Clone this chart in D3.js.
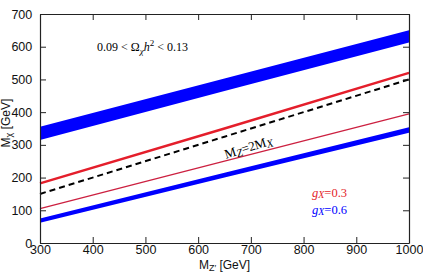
<!DOCTYPE html>
<html>
<head>
<meta charset="utf-8">
<script src="https://cdn.jsdelivr.net/npm/d3@7"></script>
<style>
  body { margin: 0; background: #fff; }
  svg { display: block; }
</style>
</head>
<body>
<svg width="423" height="273"></svg>
<script>
// M_Z' sample points (GeV)
const mzp = [300, 650, 1000];
// relic band, g_X = 0.6 (upper blue band)
const bandHighLo = [315, 465, 613];
const bandHighHi = [355, 503, 650];
// g_X = 0.6 lower blue band
const bandLowLo = [62, 200, 337];
const bandLowHi = [75, 215, 354];
// g_X = 0.3 red lines
const redThick = [182, 350, 520];
const redThin = [105, 250, 395];
// M_Z' = 2 M_X
const resonance = [150, 325, 500];

const xTicks = [300, 400, 500, 600, 700, 800, 900, 1000];
const yTicks = [0, 100, 200, 300, 400, 500, 600, 700];

const margin = { top: 14, right: 14, bottom: 30, left: 40 };
const width = 423 - margin.left - margin.right;
const height = 273 - margin.top - margin.bottom;

const x = d3.scaleLinear().domain([300, 1000]).range([0, width]);
const y = d3.scaleLinear().domain([0, 700]).range([height, 0]);

const svg = d3.select('svg');
const g = svg.append('g')
  .attr('transform', `translate(${margin.left},${margin.top})`);

const sans = 'Liberation Sans, Arial, sans-serif';
const serif = 'Liberation Serif, Times New Roman, serif';

// bands
const area = (lo, hi) => d3.area()
  .x((d, i) => x(mzp[i]))
  .y0((d, i) => y(lo[i]))
  .y1((d, i) => y(hi[i]))(mzp);

g.append('path').attr('d', area(bandHighLo, bandHighHi)).attr('fill', '#0000ff');
g.append('path').attr('d', area(bandLowLo, bandLowHi)).attr('fill', '#0000ff');

const line = vals => d3.line()
  .x((d, i) => x(mzp[i]))
  .y((d, i) => y(vals[i]))(mzp);

g.append('path').attr('d', line(redThick))
  .attr('fill', 'none').attr('stroke', '#e41e2b').attr('stroke-width', 2.4);
g.append('path').attr('d', line(redThin))
  .attr('fill', 'none').attr('stroke', '#cc2040').attr('stroke-width', 1.3);
g.append('path').attr('d', line(resonance))
  .attr('fill', 'none').attr('stroke', '#000').attr('stroke-width', 2)
  .attr('stroke-dasharray', '6,4');

// axes
const tick = 6;
const xAxis = g.append('g')
  .attr('transform', `translate(0,${height})`)
  .call(d3.axisBottom(x).tickValues(xTicks).tickFormat(d3.format('d'))
    .tickSize(-tick).tickPadding(2).tickSizeOuter(0));
const xTop = g.append('g')
  .call(d3.axisTop(x).tickValues(xTicks).tickSize(-tick).tickFormat('').tickSizeOuter(0));
const yAxis = g.append('g')
  .call(d3.axisLeft(y).tickValues(yTicks).tickSize(-tick).tickPadding(tick + 3).tickSizeOuter(0));
const yRight = g.append('g')
  .attr('transform', `translate(${width},0)`)
  .call(d3.axisRight(y).tickValues(yTicks).tickSize(-tick).tickFormat('').tickSizeOuter(0));

[xAxis, xTop, yAxis, yRight].forEach(a => {
  a.select('.domain').attr('stroke', '#222').attr('stroke-width', 1.2);
  a.selectAll('.tick line').attr('stroke', '#222').attr('stroke-width', 1);
  a.selectAll('text').attr('font-family', sans).attr('font-size', 12.5).attr('fill', '#111');
});
yAxis.selectAll('text').attr('dx', '0.1em');

// axis titles
const xt = svg.append('text')
  .attr('x', margin.left + width / 2).attr('y', 269)
  .attr('text-anchor', 'middle')
  .attr('font-family', sans).attr('font-size', 12).attr('fill', '#111');
xt.append('tspan').text('M');
xt.append('tspan').attr('font-size', 9).attr('dy', 2).text('Z′');
xt.append('tspan').attr('dy', -2).text(' [GeV]');

const yt = svg.append('text')
  .attr('transform', 'translate(10,123) rotate(-90)')
  .attr('text-anchor', 'middle')
  .attr('font-family', sans).attr('font-size', 12).attr('fill', '#111');
yt.append('tspan').text('M');
yt.append('tspan').attr('font-size', 9).attr('dy', 2).text('χ');
yt.append('tspan').attr('dy', -2).text(' [GeV]');

// relic density annotation
const rel = g.append('text')
  .attr('x', 57).attr('y', 37)
  .attr('font-family', serif).attr('font-size', 12).attr('fill', '#000');
rel.append('tspan').text('0.09 < Ω');
rel.append('tspan').attr('font-size', 9).attr('dy', 3).attr('font-style', 'italic').text('χ');
rel.append('tspan').attr('dy', -3).attr('font-style', 'italic').text('h');
rel.append('tspan').attr('font-size', 9).attr('dy', -5).text('2');
rel.append('tspan').attr('dy', 5).text(' < 0.13');

// M_Z = 2 M_X label, rotated along the dashed line
const lx = 698, ly = 280;
const ang = Math.atan2(y(resonance[2]) - y(resonance[0]), x(mzp[2]) - x(mzp[0])) * 180 / Math.PI;
const lab = g.append('text')
  .attr('transform', `translate(${x(lx)},${y(ly)}) rotate(${ang})`)
  .attr('text-anchor', 'middle')
  .attr('font-family', serif).attr('font-size', 13).attr('fill', '#000');
lab.append('tspan').text('M');
lab.append('tspan').attr('font-size', 11).attr('dy', 2).attr('font-style', 'italic').text('Z');
lab.append('tspan').attr('dy', -2).text('=2M');
lab.append('tspan').attr('font-size', 11).attr('dy', 2).attr('font-style', 'italic').text('X');

// legend
const legend = [
  { label: '0.3', color: '#e41e2b', yy: 183 },
  { label: '0.6', color: '#0000ff', yy: 200 }
];
legend.forEach(d => {
  const t = g.append('text')
    .attr('x', 272).attr('y', d.yy)
    .attr('font-family', serif).attr('font-size', 12.5).attr('fill', d.color);
  t.append('tspan').attr('font-style', 'italic').text('g');
  t.append('tspan').attr('font-style', 'italic').attr('font-size', 10).attr('dy', 1).text('X');
  t.append('tspan').attr('dy', -1).text('=' + d.label);
});
</script>
</body>
</html>
